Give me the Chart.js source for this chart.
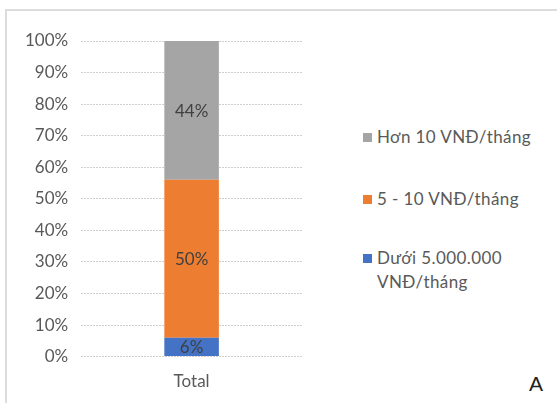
<!DOCTYPE html>
<html>
<head>
<meta charset="utf-8">
<script src="https://cdn.jsdelivr.net/npm/chart.js@4/dist/chart.umd.min.js"></script>
<style>
  body { margin: 0; background: #fff; }
  #wrap { position: relative; width: 557px; height: 403px; overflow: hidden; font-family: Lato, sans-serif; }
  #frame { position: absolute; left: 5px; top: 9px; width: 600px; height: 500px; border-top: 2px solid #dcdcdc; border-left: 2px solid #dcdcdc; }
  #chartBox { position: absolute; left: 0; top: 0; width: 340px; height: 407px; }
  #legend { position: absolute; left: 363px; top: 0; }
  .item { position: absolute; left: 0; width: 185px; display: flex; align-items: flex-start; color: #595959; font-size: 17px; line-height: 24px; letter-spacing: 0.4px; }
  .sw { width: 9px; height: 9px; margin-top: 8px; margin-right: 5px; flex: none; }
  #letter { position: absolute; left: 529px; top: 372px; font-family: "Liberation Sans", Arial, sans-serif; font-size: 21px; color: #222; }
</style>
</head>
<body>
<div id="wrap">
  <div id="frame"></div>
  <div id="chartBox"><canvas id="c"></canvas></div>
  <div id="legend"></div>
  <div id="letter">A</div>
</div>
<script>
const categories = ["Total"];
const seriesNames = ["Dưới 5.000.000 VNĐ/tháng", "5 - 10 VNĐ/tháng", "Hơn 10 VNĐ/tháng"];
const seriesValues = [[6], [50], [44]];
const seriesColors = ["#4472c4", "#ed7d31", "#a5a5a5"];
const legendLines = [["Hơn 10 VNĐ/tháng"], ["5 - 10 VNĐ/tháng"], ["Dưới 5.000.000", "VNĐ/tháng"]];
const legendTops = [125, 187, 246];

const barLabels = {
  id: "barLabels",
  afterDatasetsDraw(chart) {
    const ctx = chart.ctx;
    ctx.save();
    ctx.font = "17px Lato, sans-serif";
    ctx.fillStyle = "#404040";
    ctx.textAlign = "center";
    ctx.textBaseline = "middle";
    chart.data.datasets.forEach((ds, i) => {
      chart.getDatasetMeta(i).data.forEach((bar, j) => {
        const p = bar.getProps(["x", "y", "base"], true);
        ctx.fillText(ds.data[j] + "%", p.x, (p.y + p.base) / 2 + 1);
      });
    });
    ctx.restore();
  },
};

new Chart(document.getElementById("c"), {
  type: "bar",
  data: {
    labels: categories,
    datasets: seriesNames.map((name, i) => ({
      label: name,
      data: seriesValues[i],
      backgroundColor: seriesColors[i],
      categoryPercentage: 1,
      barPercentage: 0.247,
    })),
  },
  options: {
    responsive: true,
    maintainAspectRatio: false,
    animation: false,
    layout: { padding: { top: 41, right: 38, bottom: 0, left: 12 } },
    plugins: { legend: { display: false }, tooltip: { enabled: false } },
    scales: {
      x: {
        stacked: true,
        grid: { display: false, drawTicks: false },
        border: { display: false },
        ticks: { color: "#595959", font: { family: "Lato", size: 17 }, padding: 15 },
      },
      y: {
        stacked: true,
        min: 0,
        max: 100,
        border: { display: false, dash: [2, 1] },
        grid: { color: "#cfcfcf", drawTicks: false },
        ticks: {
          stepSize: 10,
          padding: 13,
          color: "#595959",
          font: { family: "Lato", size: 17 },
          callback: function (value) {
            return value + "%";
          },
        },
      },
    },
  },
  plugins: [barLabels],
});

// legend in the order shown in the picture (top series first)
const legend = document.getElementById("legend");
[2, 1, 0].forEach((si, k) => {
  const item = document.createElement("div");
  item.className = "item";
  item.style.top = legendTops[k] + "px";
  const sw = document.createElement("span");
  sw.className = "sw";
  sw.style.background = seriesColors[si];
  const txt = document.createElement("span");
  txt.innerHTML = legendLines[k].join("<br>");
  item.appendChild(sw);
  item.appendChild(txt);
  legend.appendChild(item);
});
</script>
</body>
</html>
